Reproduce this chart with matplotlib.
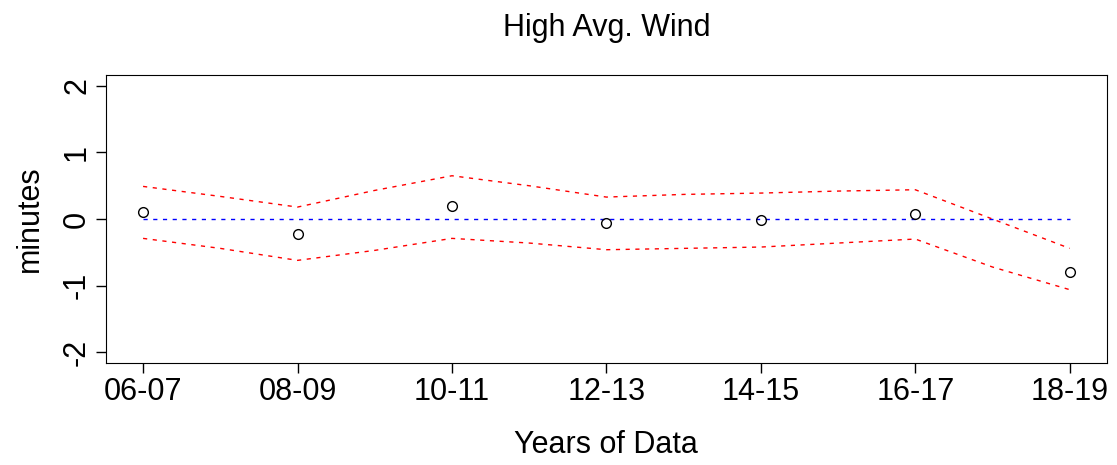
import numpy as np
import matplotlib
matplotlib.use("Agg")
import matplotlib.pyplot as plt

plt.rcParams['font.family'] = ['Liberation Sans', 'DejaVu Sans']

# data
years = ["06-07", "08-09", "10-11", "12-13", "14-15", "16-17", "18-19"]
diff = [0.10, -0.22, 0.19, -0.06, -0.02, 0.08, -0.79]

# confidence band, read at each year and half way between
band_x = [0, 0.5, 1, 1.5, 2, 2.5, 3, 3.5, 4, 4.5, 5, 5.5, 6]
upper = [0.49, 0.34, 0.18, 0.43, 0.65, 0.50, 0.33, 0.37, 0.39, 0.42, 0.44, 0.00, -0.44]
lower = [-0.29, -0.44, -0.62, -0.47, -0.29, -0.36, -0.46, -0.44, -0.42, -0.36, -0.30, -0.72, -1.06]

x = np.arange(len(years))

fig = plt.figure(figsize=(11.17, 4.65), dpi=100)
ax = fig.add_axes([0.0949, 0.2194, 0.896, 0.619])

ax.plot(x, np.zeros(len(x)), color='blue', linestyle=(0, (3, 4)), linewidth=1)
ax.plot(band_x, upper, color='red', linestyle=(0, (3, 4)), linewidth=1)
ax.plot(band_x, lower, color='red', linestyle=(0, (3, 4)), linewidth=1)
ax.plot(x, diff, 'o', markerfacecolor='none', markeredgecolor='black',
        markersize=7, markeredgewidth=1)

ax.set_xlim(-0.24, 6.24)
ax.set_ylim(-2.16, 2.16)
ax.set_xticks(x)
ax.set_xticklabels(years)
ax.set_yticks([-2, -1, 0, 1, 2])
ax.set_yticklabels(['-2', '-1', '0', '1', '2'], rotation=90, va='center')
ax.tick_params(labelsize=22, length=7, width=1, pad=3)

ax.set_title("High Avg. Wind", fontsize=22, pad=28)
ax.set_xlabel("Years of Data", fontsize=22, labelpad=17)
ax.set_ylabel("minutes", fontsize=22, labelpad=12)

fig.savefig("out.png", dpi=100)
